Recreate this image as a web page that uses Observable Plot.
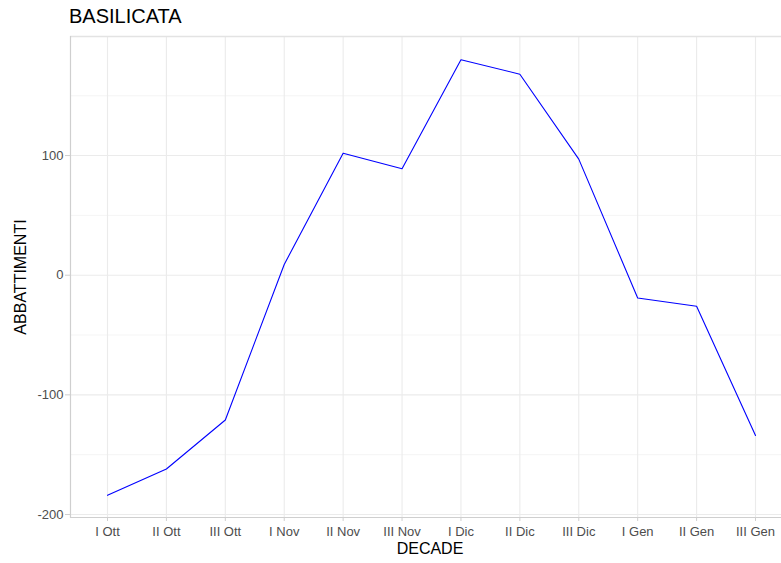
<!DOCTYPE html>
<html>
<head>
<meta charset="utf-8">
<script src="https://cdn.jsdelivr.net/npm/d3@7"></script>
<script src="https://cdn.jsdelivr.net/npm/@observablehq/plot@0.6"></script>
<style>
  html, body { margin: 0; padding: 0; background: #fff; }
  #wrap { position: relative; width: 781px; height: 563px; font-family: "Liberation Sans", Arial, sans-serif; }
  #title { position: absolute; left: 69px; top: 5px; font-size: 20px; color: #000; }
  #ylab { position: absolute; left: 21px; top: 277px; transform: translate(-50%, -50%) rotate(-90deg); font-size: 16px; color: #000; white-space: nowrap; }
  #xlab { position: absolute; left: 430px; top: 549px; transform: translate(-50%, -50%); font-size: 16px; color: #000; }
  svg { position: absolute; left: 0; top: 0; }
</style>
</head>
<body>
<div id="wrap">
  <div id="chart"></div>
  <div id="title">BASILICATA</div>
  <div id="ylab">ABBATTIMENTI</div>
  <div id="xlab">DECADE</div>
</div>
<script>
const decades = ["I Ott","II Ott","III Ott","I Nov","II Nov","III Nov","I Dic","II Dic","III Dic","I Gen","II Gen","III Gen"];
const abbattimenti = [-184, -162, -121, 9, 102, 89, 180, 168, 97, -19, -26, -134];
const yTicks = [-200, -100, 0, 100];
const yMinor = [-150, -50, 50, 150];
const yDomain = [-202.5, 199.5];

const data = decades.map((d, i) => ({decade: d, value: abbattimenti[i]}));

const chart = Plot.plot({
  width: 781,
  height: 563,
  marginLeft: 70,
  marginRight: 0,
  marginTop: 36,
  marginBottom: 46,
  style: {fontFamily: "Liberation Sans, Arial, sans-serif", background: "transparent"},
  x: {type: "point", domain: decades, range: [107, 755], padding: 0, round: false},
  y: {domain: yDomain, range: [517, 36]},
  marks: [
    Plot.ruleY(yMinor, {stroke: "#f2f2f2", strokeWidth: 0.8}),
    Plot.ruleY(yTicks, {stroke: "#ebebeb", strokeWidth: 1.1}),
    Plot.ruleX(decades, {stroke: "#ebebeb", strokeWidth: 1.1}),
    Plot.ruleY([yDomain[1]], {stroke: "#e3e3e3", strokeWidth: 1.3}),
    Plot.ruleY([yDomain[0]], {stroke: "#cfcfcf", strokeWidth: 1.2}),
    Plot.frame({anchor: "left", stroke: "#cfcfcf", strokeWidth: 1.2}),
    Plot.axisY({ticks: yTicks, tickSize: 5, tickPadding: 2, tickFormat: d => String(d), stroke: "#cfcfcf", fill: "#4d4d4d", fontSize: 13, label: null}),
    Plot.axisX({tickSize: 4, tickPadding: 5, stroke: "#cfcfcf", fill: "#4d4d4d", fontSize: 13, label: null}),
    Plot.line(data, {x: "decade", y: "value", stroke: "#0000ff", strokeWidth: 1.1})
  ]
});
document.getElementById("chart").appendChild(chart);
</script>
</body>
</html>
